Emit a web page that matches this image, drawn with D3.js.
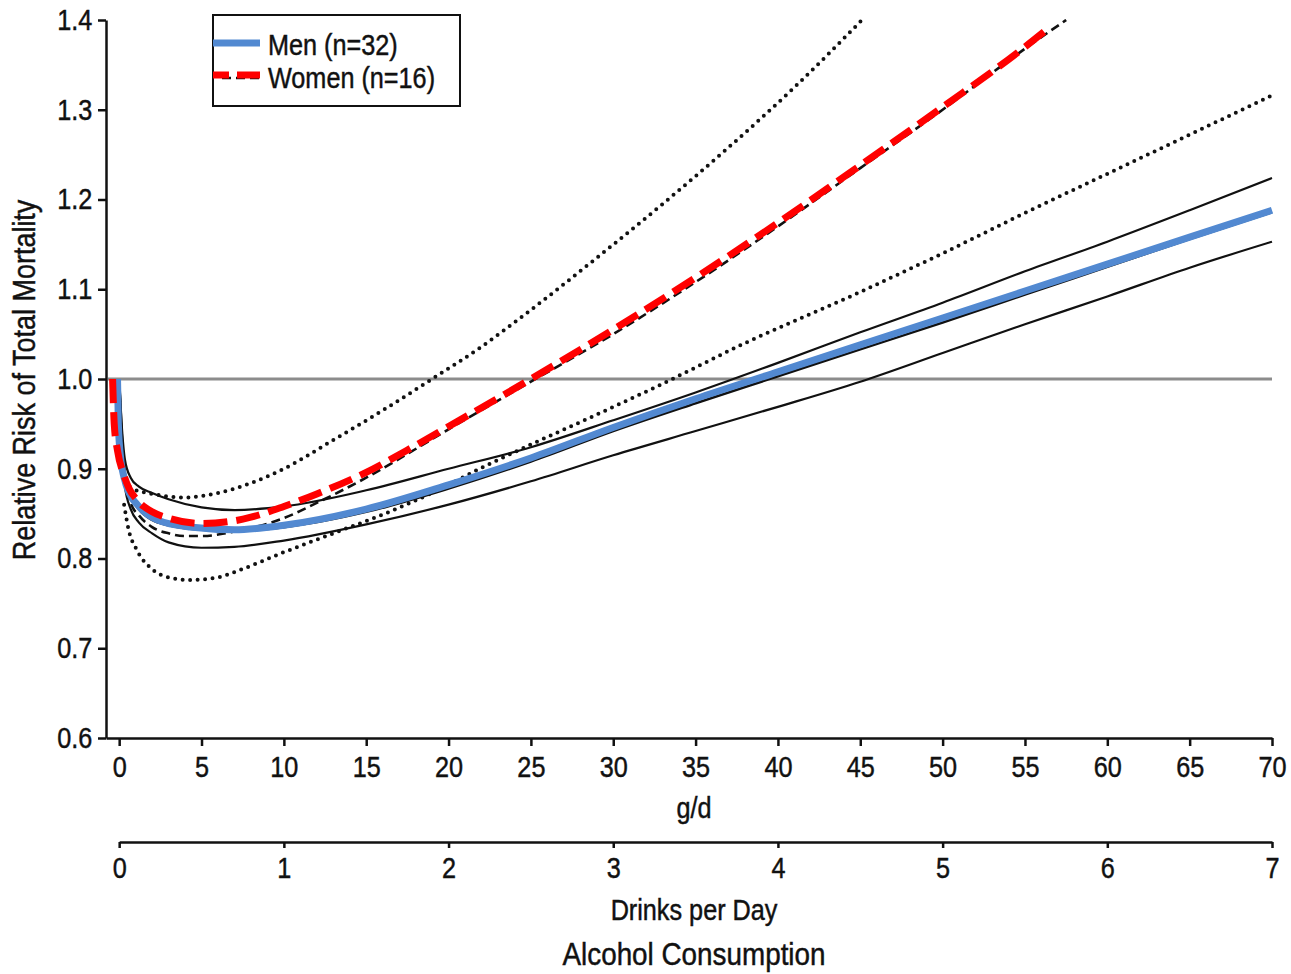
<!DOCTYPE html>
<html>
<head>
<meta charset="utf-8">
<script src="https://cdn.jsdelivr.net/npm/d3@7"></script>
<style>
  body { margin: 0; background: #fff; }
  svg text {
    font-family: "Liberation Sans", Arial, sans-serif; fill: #111;
    stroke: #111; stroke-width: 0.45px;
    transform: scaleX(0.87); transform-box: fill-box; transform-origin: center;
  }
  svg text.lab { transform-origin: left center; }
</style>
</head>
<body>
<div id="chart"></div>
<script>
// [g/d, relative risk]
const menEst = [[0,1.0],[0.15,0.94],[0.35,0.895],[0.7,0.87],[1.2,0.855],[2,0.843],[3,0.837],[5,0.832],[7,0.831],[10,0.835],[15,0.852],[20,0.878],[25,0.908],[30,0.942],[35,0.973],[40,1.003],[45,1.033],[50,1.063],[55,1.094],[60,1.125],[65,1.156],[70,1.186]];
const menUpper = [[0,1.0],[0.15,0.95],[0.35,0.91],[0.7,0.89],[1.2,0.88],[2,0.873],[3,0.866],[5,0.857],[7,0.854],[10,0.858],[15,0.876],[20,0.9],[25,0.924],[30,0.954],[35,0.985],[40,1.018],[45,1.052],[50,1.085],[55,1.12],[60,1.153],[65,1.188],[70,1.224]];
const menLower = [[0,1.0],[0.15,0.93],[0.35,0.88],[0.7,0.855],[1.2,0.84],[2,0.828],[3,0.818],[5,0.812],[7,0.813],[10,0.82],[15,0.838],[20,0.86],[25,0.886],[30,0.915],[35,0.942],[40,0.969],[45,0.997],[50,1.029],[55,1.061],[60,1.092],[65,1.124],[70,1.153]];
const womenEst = [[0,1.0],[0.15,0.93],[0.35,0.89],[0.7,0.862],[1.2,0.848],[2,0.835],[3,0.828],[4,0.825],[5,0.825],[7,0.83],[10,0.845],[12,0.862],[15,0.89],[18,0.922],[20,0.944],[25,0.997],[30,1.05],[35,1.108],[40,1.17],[45,1.235],[50,1.3],[55,1.368],[57.5,1.4]];
const womenUpper = [[0.3,0.885],[0.8,0.878],[2,0.872],[4,0.868],[6,0.873],[8,0.884],[10,0.9],[13,0.932],[16,0.965],[19,1.0],[22,1.036],[25,1.077],[29,1.135],[33,1.195],[37,1.258],[41,1.325],[45.1,1.4]];
const womenLower = [[0.3,0.86],[0.6,0.83],[1,0.812],[2,0.788],[3,0.779],[4.3,0.776],[6,0.779],[7.3,0.787],[10,0.807],[13,0.828],[16,0.849],[19,0.873],[22,0.901],[25,0.927],[28,0.952],[32.8,0.993],[38,1.04],[45,1.097],[50,1.14],[55,1.185],[62,1.246],[70,1.316]];
// coloured overlays pasted on top of the original figure
const menOverlay = [[-0.1,1.0],[-0.05,0.95],[0.1,0.91],[0.3,0.89],[0.6,0.873],[1.1,0.86],[2.3,0.843],[4.3,0.835],[7,0.832],[10,0.837],[15,0.855],[20,0.882],[25,0.912],[30,0.946],[35,0.978],[40,1.008],[45,1.038],[50,1.068],[55,1.098],[60,1.128],[65,1.158],[70,1.188]];
const womenOverlay = [[-0.4,1.0],[-0.3,0.95],[-0.1,0.92],[0.25,0.895],[0.6,0.878],[1.1,0.865],[2,0.852],[3,0.845],[5,0.839],[7,0.842],[8,0.846],[10,0.858],[12,0.872],[15,0.896],[18,0.926],[20,0.947],[25,1.0],[30,1.055],[35,1.113],[40,1.174],[45,1.238],[50,1.303],[55,1.37],[56.5,1.392]];

const gdTicks = d3.range(0, 71, 5);
const drinkTicks = d3.range(0, 8, 1);
const rrTicks = [0.6, 0.7, 0.8, 0.9, 1.0, 1.1, 1.2, 1.3, 1.4];
const legendLabels = ['Men (n=32)', 'Women (n=16)'];

const W = 1291, H = 974;
const svg = d3.select('#chart').append('svg')
    .attr('width', W).attr('height', H);

const x = d3.scaleLinear().domain([-0.8, 70]).range([106, 1272]);
const y = d3.scaleLinear().domain([0.6, 1.4]).range([738, 20]);
const xd = d3.scaleLinear().domain([0, 7]).range([x(0), x(70)]);

svg.append('clipPath').attr('id', 'plot')
    .append('rect').attr('x', 80).attr('y', y(1.4) - 2)
    .attr('width', 1220).attr('height', y(0.6) - y(1.4) + 2);

// reference line at RR = 1
svg.append('line')
    .attr('x1', 108).attr('x2', x(70))
    .attr('y1', y(1)).attr('y2', y(1))
    .attr('stroke', '#8c8c8c').attr('stroke-width', 3);

const line = d3.line()
    .x((d) => x(d[0]))
    .y((d) => y(d[1]))
    .curve(d3.curveMonotoneX);

const g = svg.append('g').attr('clip-path', 'url(#plot)');

const draw = (data, stroke, width, dash, cap) => g.append('path')
    .attr('d', line(data))
    .attr('fill', 'none')
    .attr('stroke', stroke)
    .attr('stroke-width', width)
    .attr('stroke-dasharray', dash)
    .attr('stroke-linecap', cap || 'butt');

draw(menUpper, '#111', 2.2, null);
draw(menLower, '#111', 2.2, null);
draw(menEst, '#111', 2.6, null);
draw(womenUpper, '#111', 4, '0,7.5', 'round');
draw(womenLower, '#111', 4, '0,7.5', 'round');
draw(womenEst, '#111', 2.6, '9,5');
draw(menOverlay, '#5289d1', 7, null);
draw(womenOverlay, '#ff0000', 7, '24,9');

// axes
const yAxis = svg.append('g').attr('transform', 'translate(106,0)')
    .call(d3.axisLeft(y).tickValues(rrTicks).tickFormat(d3.format('.1f'))
        .tickSize(8).tickSizeOuter(0).tickPadding(3));

const xAxis = svg.append('g').attr('transform', 'translate(0,738)')
    .call(d3.axisBottom(x).tickValues(gdTicks).tickSize(8)
        .tickSizeOuter(0).tickPadding(10));

const dAxis = svg.append('g').attr('transform', 'translate(0,842)')
    .call(d3.axisBottom(xd).tickValues(drinkTicks).tickFormat(d3.format('d'))
        .tickSize(6).tickSizeOuter(0).tickPadding(9));

[yAxis, xAxis, dAxis].forEach((a) => {
  a.selectAll('path, line').attr('stroke', '#111').attr('stroke-width', 2.5);
  a.selectAll('text').style('font-size', '29px').attr('fill', '#111');
});

// axis titles
svg.append('text').attr('x', 694).attr('y', 818)
    .attr('text-anchor', 'middle').style('font-size', '29px').text('g/d');
svg.append('text').attr('x', 694).attr('y', 920)
    .attr('text-anchor', 'middle').style('font-size', '29px').text('Drinks per Day');
svg.append('text').attr('x', 694).attr('y', 965)
    .attr('text-anchor', 'middle').style('font-size', '32px').text('Alcohol Consumption');
svg.append('g').attr('transform', 'translate(35,380) rotate(-90)')
    .append('text')
    .attr('text-anchor', 'middle').style('font-size', '31px')
    .text('Relative Risk of Total Mortality');

// legend
const leg = svg.append('g');
leg.append('rect').attr('x', 213).attr('y', 15).attr('width', 247).attr('height', 91)
    .attr('fill', '#fff').attr('stroke', '#111').attr('stroke-width', 2);
leg.append('line').attr('x1', 213).attr('x2', 260).attr('y1', 43).attr('y2', 43)
    .attr('stroke', '#5289d1').attr('stroke-width', 7);
leg.append('line').attr('x1', 222).attr('x2', 260).attr('y1', 78).attr('y2', 78)
    .attr('stroke', '#111').attr('stroke-width', 2.5).attr('stroke-dasharray', '9,5');
leg.append('line').attr('x1', 213).attr('x2', 260).attr('y1', 75).attr('y2', 75)
    .attr('stroke', '#ff0000').attr('stroke-width', 7).attr('stroke-dasharray', '16,8,23');
leg.selectAll('text.lab').data(legendLabels).enter().append('text')
    .attr('class', 'lab')
    .attr('x', 268).attr('y', (d, i) => 55 + i * 33)
    .style('font-size', '29px').text((d) => d);
</script>
</body>
</html>
